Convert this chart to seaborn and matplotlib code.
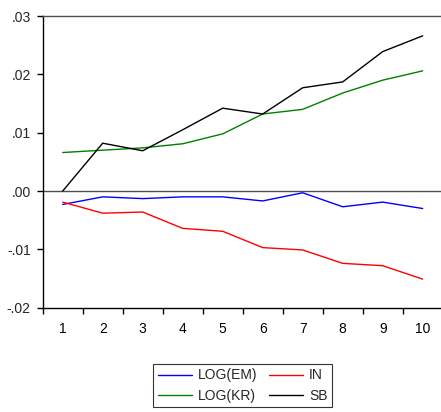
import matplotlib
matplotlib.use("Agg")
import matplotlib.pyplot as plt
import seaborn as sns
import pandas as pd
import numpy as np

periods = [1, 2, 3, 4, 5, 6, 7, 8, 9, 10]
log_em = [-0.0023, -0.0010, -0.0013, -0.0010, -0.0010, -0.0017, -0.0003, -0.0027, -0.0019, -0.0030]
in_vals = [-0.0019, -0.0038, -0.0036, -0.0064, -0.0069, -0.0097, -0.0101, -0.0124, -0.0128, -0.0151]
log_kr = [0.0066, 0.0070, 0.0074, 0.0081, 0.0098, 0.0132, 0.0140, 0.0168, 0.0190, 0.0206]
sb = [0.0000, 0.0082, 0.0069, 0.0105, 0.0142, 0.0132, 0.0177, 0.0187, 0.0239, 0.0266]

series_names = ["LOG(EM)", "IN", "LOG(KR)", "SB"]
series_colors = ["#0000ff", "#ff0000", "#008000", "#000000"]
ytick_vals = [-0.02, -0.01, 0.00, 0.01, 0.02, 0.03]
ytick_labels = ["-.02", "-.01", ".00", ".01", ".02", ".03"]

sns.set_style("white")
plt.rcParams['font.family'] = ['Liberation Sans', 'DejaVu Sans']

df = pd.concat([
    pd.DataFrame({"period": periods, "value": vals, "series": name})
    for name, vals in zip(series_names, [log_em, in_vals, log_kr, sb])
], ignore_index=True)

fig = plt.figure(figsize=(4.41, 4.12), dpi=100)
ax = fig.add_axes([42.7 / 441, 1 - 307.7 / 412, 400 / 441, 291.7 / 412])

sns.lineplot(data=df, x="period", y="value", hue="series", hue_order=series_names,
             palette=dict(zip(series_names, series_colors)), linewidth=1.0, ax=ax,
             estimator=None)

ax.axhline(0, color="#505050", linewidth=1.0, zorder=1)

ax.set_xlim(0.5, 10.5)
ax.set_ylim(-0.02, 0.03)
ax.set_xticks(periods)
ax.set_xticklabels([str(p) for p in periods])
ax.set_xticks(np.arange(0.5, 11, 1.0), minor=True)
ax.tick_params(axis="x", which="major", length=0, pad=10.5, labelsize=10, colors="black")
ax.tick_params(axis="x", which="minor", length=4.5, width=1.0, color="black", direction="out", bottom=True)
ax.set_yticks(ytick_vals)
ax.set_yticklabels(ytick_labels)
ax.tick_params(axis="y", which="major", length=4.3, width=1.0, pad=4.3, labelsize=10,
               color="black", direction="out", left=True)
ax.set_xlabel("")
ax.set_ylabel("")

for side in ["left", "bottom"]:
    ax.spines[side].set_color("black")
    ax.spines[side].set_linewidth(1.0)
ax.spines["top"].set_color("#505050")
ax.spines["top"].set_linewidth(1.0)
ax.spines["right"].set_visible(False)

handles, labels = ax.get_legend_handles_labels()
ax.get_legend().remove()
hmap = dict(zip(labels, handles))
order = ["LOG(EM)", "LOG(KR)", "IN", "SB"]
leg = fig.legend([hmap[k] for k in order], order, ncol=2, loc="center",
                 bbox_to_anchor=(242.5 / 441, 1 - 385.5 / 412), frameon=True,
                 fancybox=False, edgecolor="black", fontsize=10, handlelength=2.5,
                 handletextpad=0.4, columnspacing=0.8, labelspacing=0.45,
                 borderpad=0.35, borderaxespad=0)
leg.get_frame().set_linewidth(0.8)

fig.savefig("out.png", dpi=100)
